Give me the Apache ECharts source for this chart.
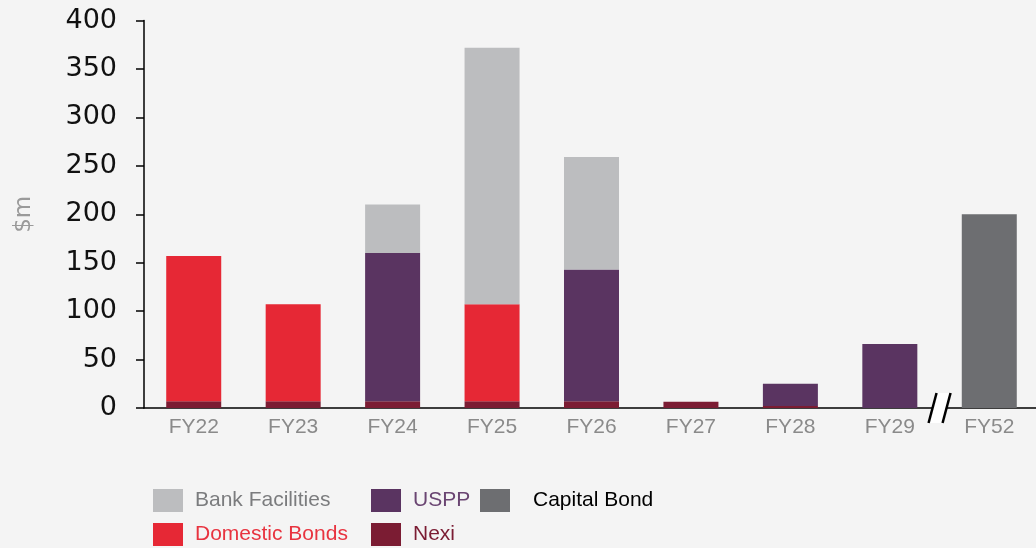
<!DOCTYPE html>
<html lang="en">
<head>
    <meta charset="UTF-8">
    <title>Debt maturity profile</title>
    <script src="https://cdn.jsdelivr.net/npm/echarts@6/dist/echarts.min.js"></script>
    <style>
        html, body {margin: 0; padding: 0; background: #f4f4f4;}
        #main {width: 1036px; height: 548px;}
    </style>
</head>
<body>
<div id="main"></div>
<script>
    // data ($m)
    var categories = ['FY22', 'FY23', 'FY24', 'FY25', 'FY26', 'FY27', 'FY28', 'FY29', 'FY52'];
    var nexi = [7, 7, 7, 7, 7, 6.5, 2, null, null];
    var domesticBonds = [150, 100, null, 100, null, null, null, null, null];
    var uspp = [null, null, 153, null, 136, null, 23, 66, null];
    var bankFacilities = [null, null, 50, 265, 116, null, null, null, null];
    var capitalBond = [null, null, null, null, null, null, null, null, 200];
    var yTicks = [0, 50, 100, 150, 200, 250, 300, 350, 400];

    var colors = {
        bank: '#bcbdbf',
        uspp: '#5a3461',
        capital: '#6d6e71',
        domestic: '#e62835',
        nexi: '#7b1c33'
    };

    var myChart = echarts.init(document.getElementById('main'));

    function bar(name, data, color) {
        return {
            name: name, type: 'bar', stack: 'total', data: data,
            barWidth: 55, itemStyle: {color: color}
        };
    }

    function legendCol(left, items) {
        return {
            orient: 'vertical', left: left, top: 489, padding: 0,
            itemWidth: 30, itemHeight: 23, itemGap: 11,
            icon: 'rect', selectedMode: false,
            textStyle: {fontFamily: 'Liberation Sans', fontSize: 21, padding: [0, 0, 0, 7]},
            data: items
        };
    }

    var option = {
        backgroundColor: '#f4f4f4',
        animation: false,
        grid: {left: 144, right: -3, top: 20.5, bottom: 140, outerBoundsMode: 'none'},
        legend: [
            legendCol(153, [
                {name: 'Bank Facilities', textStyle: {color: '#7b7c7e'}},
                {name: 'Domestic Bonds', textStyle: {color: '#e8333f'}}
            ]),
            legendCol(371, [
                {name: 'USPP', textStyle: {color: '#6a4572'}},
                {name: 'Nexi', textStyle: {color: '#7b1c33'}}
            ]),
            legendCol(480, [
                {name: 'Capital Bond', textStyle: {color: '#000', padding: [0, 0, 0, 18]}}
            ])
        ],
        xAxis: {
            type: 'category',
            data: categories,
            axisLine: {lineStyle: {color: '#000', width: 1.5}},
            axisTick: {show: false},
            axisLabel: {color: '#8a8a8a', fontFamily: 'Liberation Sans', fontSize: 21, margin: 9}
        },
        yAxis: {
            type: 'value',
            min: yTicks[0], max: yTicks[yTicks.length - 1], interval: 50,
            name: '$m', nameLocation: 'middle', nameGap: 108,
            nameTextStyle: {color: '#9a9a9a', fontFamily: 'DejaVu Sans', fontSize: 23},
            axisLine: {show: true, lineStyle: {color: '#000', width: 1.5}},
            axisTick: {show: true, length: 8, lineStyle: {color: '#000', width: 1.5}},
            splitLine: {show: false},
            axisLabel: {color: '#111', fontFamily: 'DejaVu Sans', fontSize: 27, margin: 27}
        },
        series: [
            bar('Nexi', nexi, colors.nexi),
            bar('Domestic Bonds', domesticBonds, colors.domestic),
            bar('USPP', uspp, colors.uspp),
            bar('Bank Facilities', bankFacilities, colors.bank),
            bar('Capital Bond', capitalBond, colors.capital)
        ]
    };

    myChart.setOption(option);

    // axis break mark between FY29 and FY52
    var xa = myChart.convertToPixel({xAxisIndex: 0}, 'FY29');
    var xb = myChart.convertToPixel({xAxisIndex: 0}, 'FY52');
    var bx = (xa + xb) / 2;
    var by = myChart.convertToPixel({yAxisIndex: 0}, 0);
    myChart.setOption({
        graphic: [
            {
                type: 'polygon', z: 100,
                shape: {points: [[bx - 11, by + 15], [bx - 3, by - 15], [bx + 11, by - 15], [bx + 3, by + 15]]},
                style: {fill: '#fff'}
            },
            {
                type: 'line', z: 101,
                shape: {x1: bx - 11, y1: by + 15, x2: bx - 3, y2: by - 15},
                style: {stroke: '#000', lineWidth: 2.5}
            },
            {
                type: 'line', z: 101,
                shape: {x1: bx + 3, y1: by + 15, x2: bx + 11, y2: by - 15},
                style: {stroke: '#000', lineWidth: 2.5}
            }
        ]
    });
</script>
</body>
</html>
